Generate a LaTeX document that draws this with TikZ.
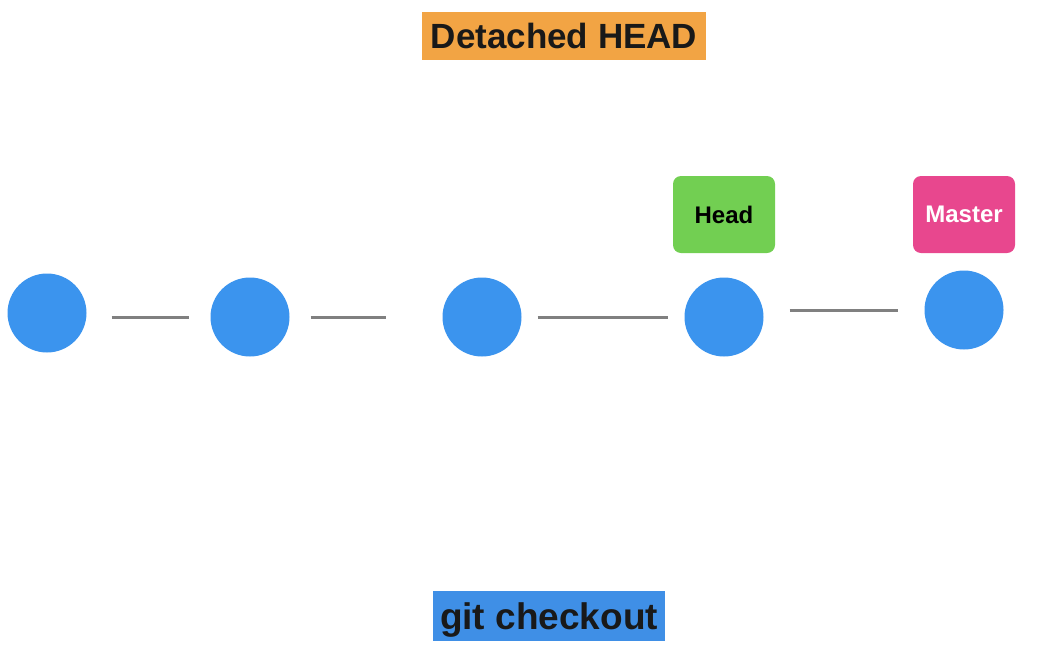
\documentclass[tikz,border=0pt]{standalone}
\usepackage{fontspec}
\setmainfont{Liberation Sans}
\definecolor{commitblue}{HTML}{3B94EE}
\definecolor{titleorange}{HTML}{F2A444}
\definecolor{headgreen}{HTML}{72CF52}
\definecolor{masterpink}{HTML}{E8478E}
\definecolor{cmdblue}{HTML}{3F8FE6}
\definecolor{linkgray}{HTML}{808080}
\begin{document}
\begin{tikzpicture}[x=1pt,y=-1pt,
  commit/.style={circle,fill=commitblue,minimum size=79pt,inner sep=0pt},
  link/.style={draw=linkgray,line width=3pt},
  tag/.style={rounded corners=8pt,minimum width=102pt,minimum height=77pt,inner sep=0pt,font=\bfseries\fontsize{24}{28}\selectfont},
  banner/.style={inner sep=0pt,font=\bfseries\fontsize{35}{40}\selectfont,text=black!90}]
\useasboundingbox (0,0) rectangle (1054,651);
\node[banner,fill=titleorange,minimum width=284pt,minimum height=48pt] (title) at (564,36) {Detached HEAD};
\node[banner,fill=cmdblue,minimum width=232pt,minimum height=50pt,text depth=0pt,font=\bfseries\fontsize{37}{40}\selectfont] (cmd) at (549,616) {git checkout};
\node[commit] (c1) at (47,313) {};
\node[commit] (c2) at (250,317) {};
\node[commit] (c3) at (482,317) {};
\node[commit] (c4) at (724,317) {};
\node[commit] (c5) at (964,310) {};
\node[tag,fill=headgreen,text=black] (head) at (724,214.5) {Head};
\node[tag,fill=masterpink,text=white] (master) at (964,214.5) {Master};
\draw[link,shorten <=25pt,shorten >=21pt] (c1.east |- c2.west) -- (c2.west);
\draw[link,shorten <=21pt,shorten >=56pt] (c2.east) -- (c3.west);
\draw[link,shorten <=16pt,shorten >=16pt] (c3.east) -- (c4.west);
\draw[link,shorten <=26pt,shorten >=26pt] (c4.east |- c5.west) -- (c5.west);
\end{tikzpicture}
\end{document}
